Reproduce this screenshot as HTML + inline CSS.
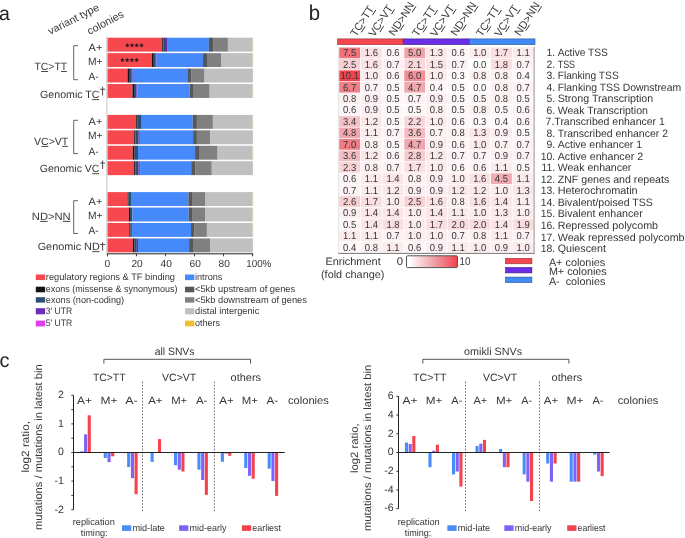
<!DOCTYPE html>
<html><head><meta charset="utf-8"><style>
html,body{margin:0;padding:0;background:#fff;}
svg{display:block;will-change:transform;text-rendering:geometricPrecision;font-family:"Liberation Sans",sans-serif;}
</style></head><body>
<svg width="685" height="538" viewBox="0 0 685 538">
<rect width="685" height="538" fill="#fff"/>
<text x="-1.00" y="20.00" font-size="19.5" fill="#222">a</text>
<text x="50.3" y="35" font-size="10.8" fill="#363636" transform="rotate(-27 50.3 35)">variant type</text>
<text x="89.6" y="35" font-size="10.8" fill="#363636" transform="rotate(-28 89.6 35)">colonies</text>
<rect x="107.40" y="37.70" width="54.80" height="13.90" fill="#f7474f"/>
<rect x="162.20" y="37.70" width="1.00" height="13.90" fill="#141414"/>
<rect x="163.20" y="37.70" width="2.80" height="13.90" fill="#2b4e72"/>
<rect x="166.00" y="37.70" width="1.00" height="13.90" fill="#6a2db5"/>
<rect x="167.00" y="37.70" width="41.90" height="13.90" fill="#4689fa"/>
<rect x="208.90" y="37.70" width="4.20" height="13.90" fill="#575757"/>
<rect x="213.10" y="37.70" width="14.80" height="13.90" fill="#808080"/>
<rect x="227.90" y="37.70" width="24.80" height="13.90" fill="#c0c0c0"/>
<rect x="252.70" y="37.70" width="0.50" height="13.90" fill="#e6d9a0"/>
<rect x="107.40" y="53.14" width="44.40" height="13.90" fill="#f7474f"/>
<rect x="151.80" y="53.14" width="1.20" height="13.90" fill="#141414"/>
<rect x="153.00" y="53.14" width="2.20" height="13.90" fill="#2b4e72"/>
<rect x="155.20" y="53.14" width="1.40" height="13.90" fill="#6a2db5"/>
<rect x="156.60" y="53.14" width="46.40" height="13.90" fill="#4689fa"/>
<rect x="203.00" y="53.14" width="4.00" height="13.90" fill="#575757"/>
<rect x="207.00" y="53.14" width="14.00" height="13.90" fill="#808080"/>
<rect x="221.00" y="53.14" width="31.70" height="13.90" fill="#c0c0c0"/>
<rect x="252.70" y="53.14" width="0.50" height="13.90" fill="#e6d9a0"/>
<rect x="107.40" y="68.58" width="20.10" height="13.90" fill="#f7474f"/>
<rect x="127.50" y="68.58" width="1.50" height="13.90" fill="#141414"/>
<rect x="129.00" y="68.58" width="2.20" height="13.90" fill="#2b4e72"/>
<rect x="131.20" y="68.58" width="1.50" height="13.90" fill="#6a2db5"/>
<rect x="132.70" y="68.58" width="54.60" height="13.90" fill="#4689fa"/>
<rect x="187.30" y="68.58" width="3.80" height="13.90" fill="#575757"/>
<rect x="191.10" y="68.58" width="13.50" height="13.90" fill="#808080"/>
<rect x="204.60" y="68.58" width="48.30" height="13.90" fill="#c0c0c0"/>
<rect x="107.40" y="84.02" width="25.10" height="13.90" fill="#f7474f"/>
<rect x="132.50" y="84.02" width="1.50" height="13.90" fill="#141414"/>
<rect x="134.00" y="84.02" width="2.40" height="13.90" fill="#2b4e72"/>
<rect x="136.40" y="84.02" width="0.90" height="13.90" fill="#6a2db5"/>
<rect x="137.30" y="84.02" width="52.50" height="13.90" fill="#4689fa"/>
<rect x="189.80" y="84.02" width="3.20" height="13.90" fill="#575757"/>
<rect x="193.00" y="84.02" width="16.70" height="13.90" fill="#808080"/>
<rect x="209.70" y="84.02" width="43.00" height="13.90" fill="#c0c0c0"/>
<rect x="252.70" y="84.02" width="0.50" height="13.90" fill="#e6d9a0"/>
<rect x="107.40" y="114.90" width="28.80" height="13.90" fill="#f7474f"/>
<rect x="136.20" y="114.90" width="1.40" height="13.90" fill="#141414"/>
<rect x="137.60" y="114.90" width="4.00" height="13.90" fill="#2b4e72"/>
<rect x="141.60" y="114.90" width="0.30" height="13.90" fill="#6a2db5"/>
<rect x="141.90" y="114.90" width="50.80" height="13.90" fill="#4689fa"/>
<rect x="192.70" y="114.90" width="4.20" height="13.90" fill="#575757"/>
<rect x="196.90" y="114.90" width="16.00" height="13.90" fill="#808080"/>
<rect x="212.90" y="114.90" width="39.80" height="13.90" fill="#c0c0c0"/>
<rect x="252.70" y="114.90" width="0.50" height="13.90" fill="#e6d9a0"/>
<rect x="107.40" y="130.34" width="26.80" height="13.90" fill="#f7474f"/>
<rect x="134.20" y="130.34" width="1.20" height="13.90" fill="#141414"/>
<rect x="135.40" y="130.34" width="3.20" height="13.90" fill="#2b4e72"/>
<rect x="138.60" y="130.34" width="1.20" height="13.90" fill="#6a2db5"/>
<rect x="139.80" y="130.34" width="53.30" height="13.90" fill="#4689fa"/>
<rect x="193.10" y="130.34" width="3.80" height="13.90" fill="#575757"/>
<rect x="196.90" y="130.34" width="13.50" height="13.90" fill="#808080"/>
<rect x="210.40" y="130.34" width="42.50" height="13.90" fill="#c0c0c0"/>
<rect x="107.40" y="145.78" width="25.40" height="13.90" fill="#f7474f"/>
<rect x="132.80" y="145.78" width="1.80" height="13.90" fill="#141414"/>
<rect x="134.60" y="145.78" width="2.40" height="13.90" fill="#2b4e72"/>
<rect x="137.00" y="145.78" width="1.00" height="13.90" fill="#6a2db5"/>
<rect x="138.00" y="145.78" width="57.10" height="13.90" fill="#4689fa"/>
<rect x="195.10" y="145.78" width="3.90" height="13.90" fill="#575757"/>
<rect x="199.00" y="145.78" width="18.60" height="13.90" fill="#808080"/>
<rect x="217.60" y="145.78" width="35.10" height="13.90" fill="#c0c0c0"/>
<rect x="252.70" y="145.78" width="0.50" height="13.90" fill="#e6d9a0"/>
<rect x="107.40" y="161.22" width="26.70" height="13.90" fill="#f7474f"/>
<rect x="134.10" y="161.22" width="1.30" height="13.90" fill="#141414"/>
<rect x="135.40" y="161.22" width="3.00" height="13.90" fill="#2b4e72"/>
<rect x="138.40" y="161.22" width="1.40" height="13.90" fill="#6a2db5"/>
<rect x="139.80" y="161.22" width="51.40" height="13.90" fill="#4689fa"/>
<rect x="191.20" y="161.22" width="3.90" height="13.90" fill="#575757"/>
<rect x="195.10" y="161.22" width="16.70" height="13.90" fill="#808080"/>
<rect x="211.80" y="161.22" width="41.10" height="13.90" fill="#c0c0c0"/>
<rect x="107.40" y="192.10" width="20.20" height="13.90" fill="#f7474f"/>
<rect x="127.60" y="192.10" width="1.00" height="13.90" fill="#141414"/>
<rect x="128.60" y="192.10" width="2.40" height="13.90" fill="#2b4e72"/>
<rect x="131.00" y="192.10" width="57.40" height="13.90" fill="#4689fa"/>
<rect x="188.40" y="192.10" width="3.60" height="13.90" fill="#575757"/>
<rect x="192.00" y="192.10" width="13.00" height="13.90" fill="#808080"/>
<rect x="205.00" y="192.10" width="47.70" height="13.90" fill="#c0c0c0"/>
<rect x="252.70" y="192.10" width="0.50" height="13.90" fill="#e6d9a0"/>
<rect x="107.40" y="207.54" width="21.50" height="13.90" fill="#f7474f"/>
<rect x="128.90" y="207.54" width="1.10" height="13.90" fill="#141414"/>
<rect x="130.00" y="207.54" width="2.50" height="13.90" fill="#2b4e72"/>
<rect x="132.50" y="207.54" width="56.20" height="13.90" fill="#4689fa"/>
<rect x="188.70" y="207.54" width="3.30" height="13.90" fill="#575757"/>
<rect x="192.00" y="207.54" width="13.00" height="13.90" fill="#808080"/>
<rect x="205.00" y="207.54" width="47.70" height="13.90" fill="#c0c0c0"/>
<rect x="252.70" y="207.54" width="0.50" height="13.90" fill="#e6d9a0"/>
<rect x="107.40" y="222.98" width="21.90" height="13.90" fill="#f7474f"/>
<rect x="129.30" y="222.98" width="1.20" height="13.90" fill="#141414"/>
<rect x="130.50" y="222.98" width="1.40" height="13.90" fill="#2b4e72"/>
<rect x="131.90" y="222.98" width="59.10" height="13.90" fill="#4689fa"/>
<rect x="191.00" y="222.98" width="3.10" height="13.90" fill="#575757"/>
<rect x="194.10" y="222.98" width="12.80" height="13.90" fill="#808080"/>
<rect x="206.90" y="222.98" width="45.80" height="13.90" fill="#c0c0c0"/>
<rect x="252.70" y="222.98" width="0.50" height="13.90" fill="#e6d9a0"/>
<rect x="107.40" y="238.42" width="25.50" height="13.90" fill="#f7474f"/>
<rect x="132.90" y="238.42" width="1.30" height="13.90" fill="#141414"/>
<rect x="134.20" y="238.42" width="2.60" height="13.90" fill="#2b4e72"/>
<rect x="136.80" y="238.42" width="1.20" height="13.90" fill="#6a2db5"/>
<rect x="138.00" y="238.42" width="51.10" height="13.90" fill="#4689fa"/>
<rect x="189.10" y="238.42" width="3.90" height="13.90" fill="#575757"/>
<rect x="193.00" y="238.42" width="17.00" height="13.90" fill="#808080"/>
<rect x="210.00" y="238.42" width="42.90" height="13.90" fill="#c0c0c0"/>
<polygon points="127.30,42.80 127.96,44.39 129.68,44.53 128.37,45.65 128.77,47.32 127.30,46.42 125.83,47.32 126.23,45.65 124.92,44.53 126.64,44.39" fill="#2a1a1a"/>
<polygon points="122.40,57.60 123.06,59.19 124.78,59.33 123.47,60.45 123.87,62.12 122.40,61.23 120.93,62.12 121.33,60.45 120.02,59.33 121.74,59.19" fill="#2a1a1a"/>
<polygon points="132.05,42.80 132.71,44.39 134.43,44.53 133.12,45.65 133.52,47.32 132.05,46.42 130.58,47.32 130.98,45.65 129.67,44.53 131.39,44.39" fill="#2a1a1a"/>
<polygon points="127.15,57.60 127.81,59.19 129.53,59.33 128.22,60.45 128.62,62.12 127.15,61.23 125.68,62.12 126.08,60.45 124.77,59.33 126.49,59.19" fill="#2a1a1a"/>
<polygon points="136.80,42.80 137.46,44.39 139.18,44.53 137.87,45.65 138.27,47.32 136.80,46.42 135.33,47.32 135.73,45.65 134.42,44.53 136.14,44.39" fill="#2a1a1a"/>
<polygon points="131.90,57.60 132.56,59.19 134.28,59.33 132.97,60.45 133.37,62.12 131.90,61.23 130.43,62.12 130.83,60.45 129.52,59.33 131.24,59.19" fill="#2a1a1a"/>
<polygon points="141.55,42.80 142.21,44.39 143.93,44.53 142.62,45.65 143.02,47.32 141.55,46.42 140.08,47.32 140.48,45.65 139.17,44.53 140.89,44.39" fill="#2a1a1a"/>
<polygon points="136.65,57.60 137.31,59.19 139.03,59.33 137.72,60.45 138.12,62.12 136.65,61.23 135.18,62.12 135.58,60.45 134.27,59.33 135.99,59.19" fill="#2a1a1a"/>
<line x1="106.90" y1="36.50" x2="106.90" y2="253.50" stroke="#c4c4c4" stroke-width="1"/>
<line x1="106.90" y1="253.80" x2="253.20" y2="253.80" stroke="#222" stroke-width="1"/>
<line x1="107.40" y1="253.80" x2="107.40" y2="256.30" stroke="#222" stroke-width="0.9"/>
<line x1="136.44" y1="253.80" x2="136.44" y2="256.30" stroke="#222" stroke-width="0.9"/>
<line x1="165.48" y1="253.80" x2="165.48" y2="256.30" stroke="#222" stroke-width="0.9"/>
<line x1="194.52" y1="253.80" x2="194.52" y2="256.30" stroke="#222" stroke-width="0.9"/>
<line x1="223.56" y1="253.80" x2="223.56" y2="256.30" stroke="#222" stroke-width="0.9"/>
<line x1="252.60" y1="253.80" x2="252.60" y2="256.30" stroke="#222" stroke-width="0.9"/>
<text x="107.40" y="266.70" font-size="10.2" text-anchor="middle" fill="#363636">0</text>
<text x="137.14" y="266.70" font-size="10.2" text-anchor="middle" fill="#363636">20</text>
<text x="166.18" y="266.70" font-size="10.2" text-anchor="middle" fill="#363636">40</text>
<text x="195.22" y="266.70" font-size="10.2" text-anchor="middle" fill="#363636">60</text>
<text x="224.26" y="266.70" font-size="10.2" text-anchor="middle" fill="#363636">80</text>
<text x="246.20" y="266.70" font-size="10.2" textLength="25.18" lengthAdjust="spacingAndGlyphs" fill="#363636">100%</text>
<text x="88.60" y="50.50" font-size="10.5" textLength="13.71" lengthAdjust="spacingAndGlyphs" fill="#363636">A+</text>
<text x="88.00" y="64.90" font-size="10.5" textLength="14.52" lengthAdjust="spacingAndGlyphs" fill="#363636">M+</text>
<text x="88.60" y="79.80" font-size="10.5" textLength="10.10" lengthAdjust="spacingAndGlyphs" fill="#363636">A-</text>
<path d="M78 45.70 H73.7 V79.70 H78" fill="none" stroke="#555" stroke-width="0.9"/>
<text x="34.50" y="69.90" font-size="10.5" textLength="32.59" lengthAdjust="spacingAndGlyphs" fill="#363636">TC&gt;TT</text>
<line x1="41.14" y1="71.50" x2="48.04" y2="71.50" stroke="#333" stroke-width="0.9"/>
<line x1="61.04" y1="71.50" x2="66.79" y2="71.50" stroke="#333" stroke-width="0.9"/>
<text x="40.10" y="97.50" font-size="10.5" textLength="59.39" lengthAdjust="spacingAndGlyphs" fill="#363636">Genomic TC</text>
<line x1="92.13" y1="99.60" x2="99.19" y2="99.60" stroke="#333" stroke-width="0.9"/>
<line x1="102.60" y1="86.80" x2="102.60" y2="95.50" stroke="#444" stroke-width="0.95"/>
<line x1="100.20" y1="89.20" x2="105.20" y2="89.20" stroke="#444" stroke-width="0.95"/>
<text x="88.60" y="124.90" font-size="10.5" textLength="13.71" lengthAdjust="spacingAndGlyphs" fill="#363636">A+</text>
<text x="88.00" y="139.40" font-size="10.5" textLength="14.52" lengthAdjust="spacingAndGlyphs" fill="#363636">M+</text>
<text x="88.60" y="154.60" font-size="10.5" textLength="10.10" lengthAdjust="spacingAndGlyphs" fill="#363636">A-</text>
<path d="M78 120.30 H73.7 V153.60 H78" fill="none" stroke="#555" stroke-width="0.9"/>
<text x="34.00" y="144.80" font-size="10.5" textLength="34.31" lengthAdjust="spacingAndGlyphs" fill="#363636">VC&gt;VT</text>
<line x1="41.34" y1="146.40" x2="48.36" y2="146.40" stroke="#333" stroke-width="0.9"/>
<line x1="62.16" y1="146.40" x2="68.01" y2="146.40" stroke="#333" stroke-width="0.9"/>
<text x="39.80" y="171.60" font-size="10.5" textLength="59.69" lengthAdjust="spacingAndGlyphs" fill="#363636">Genomic VC</text>
<line x1="92.18" y1="173.70" x2="99.19" y2="173.70" stroke="#333" stroke-width="0.9"/>
<line x1="102.60" y1="160.50" x2="102.60" y2="169.00" stroke="#444" stroke-width="0.95"/>
<line x1="100.20" y1="163.00" x2="105.20" y2="163.00" stroke="#444" stroke-width="0.95"/>
<text x="88.60" y="204.90" font-size="10.5" textLength="13.71" lengthAdjust="spacingAndGlyphs" fill="#363636">A+</text>
<text x="88.00" y="219.20" font-size="10.5" textLength="14.52" lengthAdjust="spacingAndGlyphs" fill="#363636">M+</text>
<text x="88.60" y="234.30" font-size="10.5" textLength="10.10" lengthAdjust="spacingAndGlyphs" fill="#363636">A-</text>
<path d="M78 200.70 H73.7 V233.50 H78" fill="none" stroke="#555" stroke-width="0.9"/>
<text x="31.80" y="219.80" font-size="10.5" textLength="38.87" lengthAdjust="spacingAndGlyphs" fill="#363636">ND&gt;NN</text>
<line x1="40.18" y1="221.40" x2="47.67" y2="221.40" stroke="#333" stroke-width="0.9"/>
<line x1="62.89" y1="221.40" x2="70.37" y2="221.40" stroke="#333" stroke-width="0.9"/>
<text x="37.70" y="249.50" font-size="10.5" textLength="62.09" lengthAdjust="spacingAndGlyphs" fill="#363636">Genomic ND</text>
<line x1="92.25" y1="251.60" x2="99.49" y2="251.60" stroke="#333" stroke-width="0.9"/>
<line x1="102.60" y1="242.20" x2="102.60" y2="250.70" stroke="#444" stroke-width="0.95"/>
<line x1="100.20" y1="244.50" x2="105.20" y2="244.50" stroke="#444" stroke-width="0.95"/>
<rect x="35.80" y="274.50" width="9.30" height="5.60" fill="#f7474f"/>
<text x="45.80" y="280.10" font-size="9.4" textLength="129.19" lengthAdjust="spacingAndGlyphs" fill="#363636">regulatory regions &amp; TF binding</text>
<rect x="35.80" y="286.70" width="9.30" height="5.60" fill="#141414"/>
<text x="45.80" y="292.30" font-size="9.4" textLength="131.58" lengthAdjust="spacingAndGlyphs" fill="#363636">exons (missense &amp; synonymous)</text>
<rect x="35.80" y="297.20" width="9.30" height="5.40" fill="#2b4e72"/>
<text x="45.80" y="302.60" font-size="9.4" textLength="78.31" lengthAdjust="spacingAndGlyphs" fill="#363636">exons (non-coding)</text>
<rect x="35.80" y="308.20" width="9.30" height="6.10" fill="#6a2db5"/>
<text x="45.80" y="314.30" font-size="9.4" textLength="26.41" lengthAdjust="spacingAndGlyphs" fill="#363636">3′ UTR</text>
<rect x="35.80" y="320.60" width="9.30" height="5.80" fill="#e23cf0"/>
<text x="45.80" y="326.40" font-size="9.4" textLength="26.41" lengthAdjust="spacingAndGlyphs" fill="#363636">5′ UTR</text>
<rect x="185.00" y="274.50" width="9.30" height="5.60" fill="#4689fa"/>
<text x="195.00" y="280.10" font-size="9.4" textLength="27.41" lengthAdjust="spacingAndGlyphs" fill="#363636">introns</text>
<rect x="185.00" y="286.70" width="9.30" height="5.60" fill="#575757"/>
<text x="195.00" y="292.30" font-size="9.4" textLength="100.22" lengthAdjust="spacingAndGlyphs" fill="#363636">&lt;5kb upstream of genes</text>
<rect x="185.00" y="297.20" width="9.30" height="5.40" fill="#808080"/>
<text x="195.00" y="302.60" font-size="9.4" textLength="111.90" lengthAdjust="spacingAndGlyphs" fill="#363636">&lt;5kb downstream of genes</text>
<rect x="185.00" y="308.20" width="9.30" height="6.10" fill="#c0c0c0"/>
<text x="195.00" y="314.30" font-size="9.4" textLength="64.29" lengthAdjust="spacingAndGlyphs" fill="#363636">distal intergenic</text>
<rect x="185.00" y="320.60" width="9.30" height="5.80" fill="#f0c030"/>
<text x="195.00" y="326.40" font-size="9.4" textLength="24.89" lengthAdjust="spacingAndGlyphs" fill="#363636">others</text>
<text x="308.80" y="20.10" font-size="21.3" textLength="11.32" lengthAdjust="spacingAndGlyphs" fill="#222">b</text>
<rect x="337.60" y="38.90" width="65.50" height="5.70" fill="#f5474f" stroke="#8c2c34" stroke-width="0.6"/>
<rect x="403.30" y="38.90" width="66.00" height="5.70" fill="#6a2ee6" stroke="#3a1a80" stroke-width="0.6"/>
<rect x="469.40" y="38.90" width="65.60" height="5.70" fill="#4189f5" stroke="#26508c" stroke-width="0.6"/>
<rect x="339.20" y="47.55" width="20.89" height="10.73" fill="#f0727a"/>
<text x="349.64" y="56.32" font-size="10.1" text-anchor="middle" textLength="13.21" lengthAdjust="spacingAndGlyphs" fill="#363636">7.5</text>
<rect x="360.89" y="47.55" width="20.89" height="10.73" fill="#fae1e3"/>
<text x="371.33" y="56.32" font-size="10.1" text-anchor="middle" textLength="13.21" lengthAdjust="spacingAndGlyphs" fill="#363636">1.6</text>
<rect x="382.58" y="47.55" width="20.89" height="10.73" fill="#fdf4f5"/>
<text x="393.02" y="56.32" font-size="10.1" text-anchor="middle" textLength="13.21" lengthAdjust="spacingAndGlyphs" fill="#363636">0.6</text>
<rect x="404.27" y="47.55" width="20.89" height="10.73" fill="#efa2a9"/>
<text x="414.71" y="56.32" font-size="10.1" text-anchor="middle" textLength="13.21" lengthAdjust="spacingAndGlyphs" fill="#363636">5.0</text>
<rect x="425.96" y="47.55" width="20.89" height="10.73" fill="#fbe7e9"/>
<text x="436.40" y="56.32" font-size="10.1" text-anchor="middle" textLength="13.21" lengthAdjust="spacingAndGlyphs" fill="#363636">1.3</text>
<rect x="447.64" y="47.55" width="20.89" height="10.73" fill="#fdf4f5"/>
<text x="458.09" y="56.32" font-size="10.1" text-anchor="middle" textLength="13.21" lengthAdjust="spacingAndGlyphs" fill="#363636">0.6</text>
<rect x="469.33" y="47.55" width="20.89" height="10.73" fill="#fcecee"/>
<text x="479.78" y="56.32" font-size="10.1" text-anchor="middle" textLength="13.21" lengthAdjust="spacingAndGlyphs" fill="#363636">1.0</text>
<rect x="491.02" y="47.55" width="20.89" height="10.73" fill="#fadfe2"/>
<text x="501.47" y="56.32" font-size="10.1" text-anchor="middle" textLength="13.21" lengthAdjust="spacingAndGlyphs" fill="#363636">1.7</text>
<rect x="512.71" y="47.55" width="20.89" height="10.73" fill="#fbebec"/>
<text x="523.16" y="56.32" font-size="10.1" text-anchor="middle" textLength="13.21" lengthAdjust="spacingAndGlyphs" fill="#363636">1.1</text>
<rect x="339.20" y="58.98" width="20.89" height="10.73" fill="#f7d0d4"/>
<text x="349.64" y="67.75" font-size="10.1" text-anchor="middle" textLength="13.21" lengthAdjust="spacingAndGlyphs" fill="#363636">2.5</text>
<rect x="360.89" y="58.98" width="20.89" height="10.73" fill="#fae1e3"/>
<text x="371.33" y="67.75" font-size="10.1" text-anchor="middle" textLength="13.21" lengthAdjust="spacingAndGlyphs" fill="#363636">1.6</text>
<rect x="382.58" y="58.98" width="20.89" height="10.73" fill="#fdf2f3"/>
<text x="393.02" y="67.75" font-size="10.1" text-anchor="middle" textLength="13.21" lengthAdjust="spacingAndGlyphs" fill="#363636">0.7</text>
<rect x="404.27" y="58.98" width="20.89" height="10.73" fill="#f8d8db"/>
<text x="414.71" y="67.75" font-size="10.1" text-anchor="middle" textLength="13.21" lengthAdjust="spacingAndGlyphs" fill="#363636">2.1</text>
<rect x="425.96" y="58.98" width="20.89" height="10.73" fill="#fae3e5"/>
<text x="436.40" y="67.75" font-size="10.1" text-anchor="middle" textLength="13.21" lengthAdjust="spacingAndGlyphs" fill="#363636">1.5</text>
<rect x="447.64" y="58.98" width="20.89" height="10.73" fill="#fdf2f3"/>
<text x="458.09" y="67.75" font-size="10.1" text-anchor="middle" textLength="13.21" lengthAdjust="spacingAndGlyphs" fill="#363636">0.7</text>
<rect x="469.33" y="58.98" width="20.89" height="10.73" fill="#ffffff"/>
<text x="479.78" y="67.75" font-size="10.1" text-anchor="middle" textLength="13.21" lengthAdjust="spacingAndGlyphs" fill="#363636">0.0</text>
<rect x="491.02" y="58.98" width="20.89" height="10.73" fill="#f9dee0"/>
<text x="501.47" y="67.75" font-size="10.1" text-anchor="middle" textLength="13.21" lengthAdjust="spacingAndGlyphs" fill="#363636">1.8</text>
<rect x="512.71" y="58.98" width="20.89" height="10.73" fill="#fdf2f3"/>
<text x="523.16" y="67.75" font-size="10.1" text-anchor="middle" textLength="13.21" lengthAdjust="spacingAndGlyphs" fill="#363636">0.7</text>
<rect x="339.20" y="70.42" width="20.89" height="10.73" fill="#f2424c"/>
<text x="349.64" y="79.18" font-size="10.1" text-anchor="middle" textLength="18.49" lengthAdjust="spacingAndGlyphs" fill="#363636">10.1</text>
<rect x="360.89" y="70.42" width="20.89" height="10.73" fill="#fcecee"/>
<text x="371.33" y="79.18" font-size="10.1" text-anchor="middle" textLength="13.21" lengthAdjust="spacingAndGlyphs" fill="#363636">1.0</text>
<rect x="382.58" y="70.42" width="20.89" height="10.73" fill="#fdf4f5"/>
<text x="393.02" y="79.18" font-size="10.1" text-anchor="middle" textLength="13.21" lengthAdjust="spacingAndGlyphs" fill="#363636">0.6</text>
<rect x="404.27" y="70.42" width="20.89" height="10.73" fill="#f08f96"/>
<text x="414.71" y="79.18" font-size="10.1" text-anchor="middle" textLength="13.21" lengthAdjust="spacingAndGlyphs" fill="#363636">6.0</text>
<rect x="425.96" y="70.42" width="20.89" height="10.73" fill="#fcecee"/>
<text x="436.40" y="79.18" font-size="10.1" text-anchor="middle" textLength="13.21" lengthAdjust="spacingAndGlyphs" fill="#363636">1.0</text>
<rect x="447.64" y="70.42" width="20.89" height="10.73" fill="#fef9fa"/>
<text x="458.09" y="79.18" font-size="10.1" text-anchor="middle" textLength="13.21" lengthAdjust="spacingAndGlyphs" fill="#363636">0.3</text>
<rect x="469.33" y="70.42" width="20.89" height="10.73" fill="#fcf0f1"/>
<text x="479.78" y="79.18" font-size="10.1" text-anchor="middle" textLength="13.21" lengthAdjust="spacingAndGlyphs" fill="#363636">0.8</text>
<rect x="491.02" y="70.42" width="20.89" height="10.73" fill="#fcf0f1"/>
<text x="501.47" y="79.18" font-size="10.1" text-anchor="middle" textLength="13.21" lengthAdjust="spacingAndGlyphs" fill="#363636">0.8</text>
<rect x="512.71" y="70.42" width="20.89" height="10.73" fill="#fef8f8"/>
<text x="523.16" y="79.18" font-size="10.1" text-anchor="middle" textLength="13.21" lengthAdjust="spacingAndGlyphs" fill="#363636">0.4</text>
<rect x="339.20" y="81.85" width="20.89" height="10.73" fill="#f08189"/>
<text x="349.64" y="90.62" font-size="10.1" text-anchor="middle" textLength="13.21" lengthAdjust="spacingAndGlyphs" fill="#363636">6.7</text>
<rect x="360.89" y="81.85" width="20.89" height="10.73" fill="#fdf2f3"/>
<text x="371.33" y="90.62" font-size="10.1" text-anchor="middle" textLength="13.21" lengthAdjust="spacingAndGlyphs" fill="#363636">0.7</text>
<rect x="382.58" y="81.85" width="20.89" height="10.73" fill="#fdf6f6"/>
<text x="393.02" y="90.62" font-size="10.1" text-anchor="middle" textLength="13.21" lengthAdjust="spacingAndGlyphs" fill="#363636">0.5</text>
<rect x="404.27" y="81.85" width="20.89" height="10.73" fill="#f0a8ae"/>
<text x="414.71" y="90.62" font-size="10.1" text-anchor="middle" textLength="13.21" lengthAdjust="spacingAndGlyphs" fill="#363636">4.7</text>
<rect x="425.96" y="81.85" width="20.89" height="10.73" fill="#fef8f8"/>
<text x="436.40" y="90.62" font-size="10.1" text-anchor="middle" textLength="13.21" lengthAdjust="spacingAndGlyphs" fill="#363636">0.4</text>
<rect x="447.64" y="81.85" width="20.89" height="10.73" fill="#fdf6f6"/>
<text x="458.09" y="90.62" font-size="10.1" text-anchor="middle" textLength="13.21" lengthAdjust="spacingAndGlyphs" fill="#363636">0.5</text>
<rect x="469.33" y="81.85" width="20.89" height="10.73" fill="#ffffff"/>
<text x="479.78" y="90.62" font-size="10.1" text-anchor="middle" textLength="13.21" lengthAdjust="spacingAndGlyphs" fill="#363636">0.0</text>
<rect x="491.02" y="81.85" width="20.89" height="10.73" fill="#fcf0f1"/>
<text x="501.47" y="90.62" font-size="10.1" text-anchor="middle" textLength="13.21" lengthAdjust="spacingAndGlyphs" fill="#363636">0.8</text>
<rect x="512.71" y="81.85" width="20.89" height="10.73" fill="#fdf2f3"/>
<text x="523.16" y="90.62" font-size="10.1" text-anchor="middle" textLength="13.21" lengthAdjust="spacingAndGlyphs" fill="#363636">0.7</text>
<rect x="339.20" y="93.28" width="20.89" height="10.73" fill="#fcf0f1"/>
<text x="349.64" y="102.05" font-size="10.1" text-anchor="middle" textLength="13.21" lengthAdjust="spacingAndGlyphs" fill="#363636">0.8</text>
<rect x="360.89" y="93.28" width="20.89" height="10.73" fill="#fceef0"/>
<text x="371.33" y="102.05" font-size="10.1" text-anchor="middle" textLength="13.21" lengthAdjust="spacingAndGlyphs" fill="#363636">0.9</text>
<rect x="382.58" y="93.28" width="20.89" height="10.73" fill="#fdf6f6"/>
<text x="393.02" y="102.05" font-size="10.1" text-anchor="middle" textLength="13.21" lengthAdjust="spacingAndGlyphs" fill="#363636">0.5</text>
<rect x="404.27" y="93.28" width="20.89" height="10.73" fill="#fdf2f3"/>
<text x="414.71" y="102.05" font-size="10.1" text-anchor="middle" textLength="13.21" lengthAdjust="spacingAndGlyphs" fill="#363636">0.7</text>
<rect x="425.96" y="93.28" width="20.89" height="10.73" fill="#fceef0"/>
<text x="436.40" y="102.05" font-size="10.1" text-anchor="middle" textLength="13.21" lengthAdjust="spacingAndGlyphs" fill="#363636">0.9</text>
<rect x="447.64" y="93.28" width="20.89" height="10.73" fill="#fdf6f6"/>
<text x="458.09" y="102.05" font-size="10.1" text-anchor="middle" textLength="13.21" lengthAdjust="spacingAndGlyphs" fill="#363636">0.5</text>
<rect x="469.33" y="93.28" width="20.89" height="10.73" fill="#fdf6f6"/>
<text x="479.78" y="102.05" font-size="10.1" text-anchor="middle" textLength="13.21" lengthAdjust="spacingAndGlyphs" fill="#363636">0.5</text>
<rect x="491.02" y="93.28" width="20.89" height="10.73" fill="#fcf0f1"/>
<text x="501.47" y="102.05" font-size="10.1" text-anchor="middle" textLength="13.21" lengthAdjust="spacingAndGlyphs" fill="#363636">0.8</text>
<rect x="512.71" y="93.28" width="20.89" height="10.73" fill="#fdf6f6"/>
<text x="523.16" y="102.05" font-size="10.1" text-anchor="middle" textLength="13.21" lengthAdjust="spacingAndGlyphs" fill="#363636">0.5</text>
<rect x="339.20" y="104.72" width="20.89" height="10.73" fill="#fdf4f5"/>
<text x="349.64" y="113.48" font-size="10.1" text-anchor="middle" textLength="13.21" lengthAdjust="spacingAndGlyphs" fill="#363636">0.6</text>
<rect x="360.89" y="104.72" width="20.89" height="10.73" fill="#fceef0"/>
<text x="371.33" y="113.48" font-size="10.1" text-anchor="middle" textLength="13.21" lengthAdjust="spacingAndGlyphs" fill="#363636">0.9</text>
<rect x="382.58" y="104.72" width="20.89" height="10.73" fill="#fdf6f6"/>
<text x="393.02" y="113.48" font-size="10.1" text-anchor="middle" textLength="13.21" lengthAdjust="spacingAndGlyphs" fill="#363636">0.5</text>
<rect x="404.27" y="104.72" width="20.89" height="10.73" fill="#fdf6f6"/>
<text x="414.71" y="113.48" font-size="10.1" text-anchor="middle" textLength="13.21" lengthAdjust="spacingAndGlyphs" fill="#363636">0.5</text>
<rect x="425.96" y="104.72" width="20.89" height="10.73" fill="#fcf0f1"/>
<text x="436.40" y="113.48" font-size="10.1" text-anchor="middle" textLength="13.21" lengthAdjust="spacingAndGlyphs" fill="#363636">0.8</text>
<rect x="447.64" y="104.72" width="20.89" height="10.73" fill="#fdf6f6"/>
<text x="458.09" y="113.48" font-size="10.1" text-anchor="middle" textLength="13.21" lengthAdjust="spacingAndGlyphs" fill="#363636">0.5</text>
<rect x="469.33" y="104.72" width="20.89" height="10.73" fill="#fcf0f1"/>
<text x="479.78" y="113.48" font-size="10.1" text-anchor="middle" textLength="13.21" lengthAdjust="spacingAndGlyphs" fill="#363636">0.8</text>
<rect x="491.02" y="104.72" width="20.89" height="10.73" fill="#fdf6f6"/>
<text x="501.47" y="113.48" font-size="10.1" text-anchor="middle" textLength="13.21" lengthAdjust="spacingAndGlyphs" fill="#363636">0.5</text>
<rect x="512.71" y="104.72" width="20.89" height="10.73" fill="#fdf4f5"/>
<text x="523.16" y="113.48" font-size="10.1" text-anchor="middle" textLength="13.21" lengthAdjust="spacingAndGlyphs" fill="#363636">0.6</text>
<rect x="339.20" y="116.15" width="20.89" height="10.73" fill="#f4c0c5"/>
<text x="349.64" y="124.92" font-size="10.1" text-anchor="middle" textLength="13.21" lengthAdjust="spacingAndGlyphs" fill="#363636">3.4</text>
<rect x="360.89" y="116.15" width="20.89" height="10.73" fill="#fbe9ea"/>
<text x="371.33" y="124.92" font-size="10.1" text-anchor="middle" textLength="13.21" lengthAdjust="spacingAndGlyphs" fill="#363636">1.2</text>
<rect x="382.58" y="116.15" width="20.89" height="10.73" fill="#fdf6f6"/>
<text x="393.02" y="124.92" font-size="10.1" text-anchor="middle" textLength="13.21" lengthAdjust="spacingAndGlyphs" fill="#363636">0.5</text>
<rect x="404.27" y="116.15" width="20.89" height="10.73" fill="#f8d6d9"/>
<text x="414.71" y="124.92" font-size="10.1" text-anchor="middle" textLength="13.21" lengthAdjust="spacingAndGlyphs" fill="#363636">2.2</text>
<rect x="425.96" y="116.15" width="20.89" height="10.73" fill="#fcecee"/>
<text x="436.40" y="124.92" font-size="10.1" text-anchor="middle" textLength="13.21" lengthAdjust="spacingAndGlyphs" fill="#363636">1.0</text>
<rect x="447.64" y="116.15" width="20.89" height="10.73" fill="#fdf4f5"/>
<text x="458.09" y="124.92" font-size="10.1" text-anchor="middle" textLength="13.21" lengthAdjust="spacingAndGlyphs" fill="#363636">0.6</text>
<rect x="469.33" y="116.15" width="20.89" height="10.73" fill="#fef9fa"/>
<text x="479.78" y="124.92" font-size="10.1" text-anchor="middle" textLength="13.21" lengthAdjust="spacingAndGlyphs" fill="#363636">0.3</text>
<rect x="491.02" y="116.15" width="20.89" height="10.73" fill="#fef8f8"/>
<text x="501.47" y="124.92" font-size="10.1" text-anchor="middle" textLength="13.21" lengthAdjust="spacingAndGlyphs" fill="#363636">0.4</text>
<rect x="512.71" y="116.15" width="20.89" height="10.73" fill="#fdf4f5"/>
<text x="523.16" y="124.92" font-size="10.1" text-anchor="middle" textLength="13.21" lengthAdjust="spacingAndGlyphs" fill="#363636">0.6</text>
<rect x="339.20" y="127.58" width="20.89" height="10.73" fill="#f0a6ac"/>
<text x="349.64" y="136.35" font-size="10.1" text-anchor="middle" textLength="13.21" lengthAdjust="spacingAndGlyphs" fill="#363636">4.8</text>
<rect x="360.89" y="127.58" width="20.89" height="10.73" fill="#fbebec"/>
<text x="371.33" y="136.35" font-size="10.1" text-anchor="middle" textLength="13.21" lengthAdjust="spacingAndGlyphs" fill="#363636">1.1</text>
<rect x="382.58" y="127.58" width="20.89" height="10.73" fill="#fdf2f3"/>
<text x="393.02" y="136.35" font-size="10.1" text-anchor="middle" textLength="13.21" lengthAdjust="spacingAndGlyphs" fill="#363636">0.7</text>
<rect x="404.27" y="127.58" width="20.89" height="10.73" fill="#f3bcc1"/>
<text x="414.71" y="136.35" font-size="10.1" text-anchor="middle" textLength="13.21" lengthAdjust="spacingAndGlyphs" fill="#363636">3.6</text>
<rect x="425.96" y="127.58" width="20.89" height="10.73" fill="#fdf2f3"/>
<text x="436.40" y="136.35" font-size="10.1" text-anchor="middle" textLength="13.21" lengthAdjust="spacingAndGlyphs" fill="#363636">0.7</text>
<rect x="447.64" y="127.58" width="20.89" height="10.73" fill="#fcf0f1"/>
<text x="458.09" y="136.35" font-size="10.1" text-anchor="middle" textLength="13.21" lengthAdjust="spacingAndGlyphs" fill="#363636">0.8</text>
<rect x="469.33" y="127.58" width="20.89" height="10.73" fill="#fbe7e9"/>
<text x="479.78" y="136.35" font-size="10.1" text-anchor="middle" textLength="13.21" lengthAdjust="spacingAndGlyphs" fill="#363636">1.3</text>
<rect x="491.02" y="127.58" width="20.89" height="10.73" fill="#fceef0"/>
<text x="501.47" y="136.35" font-size="10.1" text-anchor="middle" textLength="13.21" lengthAdjust="spacingAndGlyphs" fill="#363636">0.9</text>
<rect x="512.71" y="127.58" width="20.89" height="10.73" fill="#fdf6f6"/>
<text x="523.16" y="136.35" font-size="10.1" text-anchor="middle" textLength="13.21" lengthAdjust="spacingAndGlyphs" fill="#363636">0.5</text>
<rect x="339.20" y="139.02" width="20.89" height="10.73" fill="#f07c84"/>
<text x="349.64" y="147.78" font-size="10.1" text-anchor="middle" textLength="13.21" lengthAdjust="spacingAndGlyphs" fill="#363636">7.0</text>
<rect x="360.89" y="139.02" width="20.89" height="10.73" fill="#fcf0f1"/>
<text x="371.33" y="147.78" font-size="10.1" text-anchor="middle" textLength="13.21" lengthAdjust="spacingAndGlyphs" fill="#363636">0.8</text>
<rect x="382.58" y="139.02" width="20.89" height="10.73" fill="#fdf6f6"/>
<text x="393.02" y="147.78" font-size="10.1" text-anchor="middle" textLength="13.21" lengthAdjust="spacingAndGlyphs" fill="#363636">0.5</text>
<rect x="404.27" y="139.02" width="20.89" height="10.73" fill="#f0a8ae"/>
<text x="414.71" y="147.78" font-size="10.1" text-anchor="middle" textLength="13.21" lengthAdjust="spacingAndGlyphs" fill="#363636">4.7</text>
<rect x="425.96" y="139.02" width="20.89" height="10.73" fill="#fceef0"/>
<text x="436.40" y="147.78" font-size="10.1" text-anchor="middle" textLength="13.21" lengthAdjust="spacingAndGlyphs" fill="#363636">0.9</text>
<rect x="447.64" y="139.02" width="20.89" height="10.73" fill="#fdf4f5"/>
<text x="458.09" y="147.78" font-size="10.1" text-anchor="middle" textLength="13.21" lengthAdjust="spacingAndGlyphs" fill="#363636">0.6</text>
<rect x="469.33" y="139.02" width="20.89" height="10.73" fill="#fcecee"/>
<text x="479.78" y="147.78" font-size="10.1" text-anchor="middle" textLength="13.21" lengthAdjust="spacingAndGlyphs" fill="#363636">1.0</text>
<rect x="491.02" y="139.02" width="20.89" height="10.73" fill="#fdf2f3"/>
<text x="501.47" y="147.78" font-size="10.1" text-anchor="middle" textLength="13.21" lengthAdjust="spacingAndGlyphs" fill="#363636">0.7</text>
<rect x="512.71" y="139.02" width="20.89" height="10.73" fill="#fdf2f3"/>
<text x="523.16" y="147.78" font-size="10.1" text-anchor="middle" textLength="13.21" lengthAdjust="spacingAndGlyphs" fill="#363636">0.7</text>
<rect x="339.20" y="150.45" width="20.89" height="10.73" fill="#f3bcc1"/>
<text x="349.64" y="159.22" font-size="10.1" text-anchor="middle" textLength="13.21" lengthAdjust="spacingAndGlyphs" fill="#363636">3.6</text>
<rect x="360.89" y="150.45" width="20.89" height="10.73" fill="#fbe9ea"/>
<text x="371.33" y="159.22" font-size="10.1" text-anchor="middle" textLength="13.21" lengthAdjust="spacingAndGlyphs" fill="#363636">1.2</text>
<rect x="382.58" y="150.45" width="20.89" height="10.73" fill="#fdf4f5"/>
<text x="393.02" y="159.22" font-size="10.1" text-anchor="middle" textLength="13.21" lengthAdjust="spacingAndGlyphs" fill="#363636">0.6</text>
<rect x="404.27" y="150.45" width="20.89" height="10.73" fill="#f6cbcf"/>
<text x="414.71" y="159.22" font-size="10.1" text-anchor="middle" textLength="13.21" lengthAdjust="spacingAndGlyphs" fill="#363636">2.8</text>
<rect x="425.96" y="150.45" width="20.89" height="10.73" fill="#fbe9ea"/>
<text x="436.40" y="159.22" font-size="10.1" text-anchor="middle" textLength="13.21" lengthAdjust="spacingAndGlyphs" fill="#363636">1.2</text>
<rect x="447.64" y="150.45" width="20.89" height="10.73" fill="#fdf2f3"/>
<text x="458.09" y="159.22" font-size="10.1" text-anchor="middle" textLength="13.21" lengthAdjust="spacingAndGlyphs" fill="#363636">0.7</text>
<rect x="469.33" y="150.45" width="20.89" height="10.73" fill="#fdf2f3"/>
<text x="479.78" y="159.22" font-size="10.1" text-anchor="middle" textLength="13.21" lengthAdjust="spacingAndGlyphs" fill="#363636">0.7</text>
<rect x="491.02" y="150.45" width="20.89" height="10.73" fill="#fceef0"/>
<text x="501.47" y="159.22" font-size="10.1" text-anchor="middle" textLength="13.21" lengthAdjust="spacingAndGlyphs" fill="#363636">0.9</text>
<rect x="512.71" y="150.45" width="20.89" height="10.73" fill="#fdf2f3"/>
<text x="523.16" y="159.22" font-size="10.1" text-anchor="middle" textLength="13.21" lengthAdjust="spacingAndGlyphs" fill="#363636">0.7</text>
<rect x="339.20" y="161.88" width="20.89" height="10.73" fill="#f8d4d7"/>
<text x="349.64" y="170.65" font-size="10.1" text-anchor="middle" textLength="13.21" lengthAdjust="spacingAndGlyphs" fill="#363636">2.3</text>
<rect x="360.89" y="161.88" width="20.89" height="10.73" fill="#fcf0f1"/>
<text x="371.33" y="170.65" font-size="10.1" text-anchor="middle" textLength="13.21" lengthAdjust="spacingAndGlyphs" fill="#363636">0.8</text>
<rect x="382.58" y="161.88" width="20.89" height="10.73" fill="#fdf2f3"/>
<text x="393.02" y="170.65" font-size="10.1" text-anchor="middle" textLength="13.21" lengthAdjust="spacingAndGlyphs" fill="#363636">0.7</text>
<rect x="404.27" y="161.88" width="20.89" height="10.73" fill="#fadfe2"/>
<text x="414.71" y="170.65" font-size="10.1" text-anchor="middle" textLength="13.21" lengthAdjust="spacingAndGlyphs" fill="#363636">1.7</text>
<rect x="425.96" y="161.88" width="20.89" height="10.73" fill="#fcecee"/>
<text x="436.40" y="170.65" font-size="10.1" text-anchor="middle" textLength="13.21" lengthAdjust="spacingAndGlyphs" fill="#363636">1.0</text>
<rect x="447.64" y="161.88" width="20.89" height="10.73" fill="#fdf4f5"/>
<text x="458.09" y="170.65" font-size="10.1" text-anchor="middle" textLength="13.21" lengthAdjust="spacingAndGlyphs" fill="#363636">0.6</text>
<rect x="469.33" y="161.88" width="20.89" height="10.73" fill="#fdf4f5"/>
<text x="479.78" y="170.65" font-size="10.1" text-anchor="middle" textLength="13.21" lengthAdjust="spacingAndGlyphs" fill="#363636">0.6</text>
<rect x="491.02" y="161.88" width="20.89" height="10.73" fill="#fbebec"/>
<text x="501.47" y="170.65" font-size="10.1" text-anchor="middle" textLength="13.21" lengthAdjust="spacingAndGlyphs" fill="#363636">1.1</text>
<rect x="512.71" y="161.88" width="20.89" height="10.73" fill="#fdf6f6"/>
<text x="523.16" y="170.65" font-size="10.1" text-anchor="middle" textLength="13.21" lengthAdjust="spacingAndGlyphs" fill="#363636">0.5</text>
<rect x="339.20" y="173.32" width="20.89" height="10.73" fill="#fdf4f5"/>
<text x="349.64" y="182.08" font-size="10.1" text-anchor="middle" textLength="13.21" lengthAdjust="spacingAndGlyphs" fill="#363636">0.6</text>
<rect x="360.89" y="173.32" width="20.89" height="10.73" fill="#fbebec"/>
<text x="371.33" y="182.08" font-size="10.1" text-anchor="middle" textLength="13.21" lengthAdjust="spacingAndGlyphs" fill="#363636">1.1</text>
<rect x="382.58" y="173.32" width="20.89" height="10.73" fill="#fbe5e7"/>
<text x="393.02" y="182.08" font-size="10.1" text-anchor="middle" textLength="13.21" lengthAdjust="spacingAndGlyphs" fill="#363636">1.4</text>
<rect x="404.27" y="173.32" width="20.89" height="10.73" fill="#fcf0f1"/>
<text x="414.71" y="182.08" font-size="10.1" text-anchor="middle" textLength="13.21" lengthAdjust="spacingAndGlyphs" fill="#363636">0.8</text>
<rect x="425.96" y="173.32" width="20.89" height="10.73" fill="#fceef0"/>
<text x="436.40" y="182.08" font-size="10.1" text-anchor="middle" textLength="13.21" lengthAdjust="spacingAndGlyphs" fill="#363636">0.9</text>
<rect x="447.64" y="173.32" width="20.89" height="10.73" fill="#fcecee"/>
<text x="458.09" y="182.08" font-size="10.1" text-anchor="middle" textLength="13.21" lengthAdjust="spacingAndGlyphs" fill="#363636">1.0</text>
<rect x="469.33" y="173.32" width="20.89" height="10.73" fill="#fae1e3"/>
<text x="479.78" y="182.08" font-size="10.1" text-anchor="middle" textLength="13.21" lengthAdjust="spacingAndGlyphs" fill="#363636">1.6</text>
<rect x="491.02" y="173.32" width="20.89" height="10.73" fill="#f1abb2"/>
<text x="501.47" y="182.08" font-size="10.1" text-anchor="middle" textLength="13.21" lengthAdjust="spacingAndGlyphs" fill="#363636">4.5</text>
<rect x="512.71" y="173.32" width="20.89" height="10.73" fill="#fbebec"/>
<text x="523.16" y="182.08" font-size="10.1" text-anchor="middle" textLength="13.21" lengthAdjust="spacingAndGlyphs" fill="#363636">1.1</text>
<rect x="339.20" y="184.75" width="20.89" height="10.73" fill="#fdf2f3"/>
<text x="349.64" y="193.52" font-size="10.1" text-anchor="middle" textLength="13.21" lengthAdjust="spacingAndGlyphs" fill="#363636">0.7</text>
<rect x="360.89" y="184.75" width="20.89" height="10.73" fill="#fbebec"/>
<text x="371.33" y="193.52" font-size="10.1" text-anchor="middle" textLength="13.21" lengthAdjust="spacingAndGlyphs" fill="#363636">1.1</text>
<rect x="382.58" y="184.75" width="20.89" height="10.73" fill="#fbe9ea"/>
<text x="393.02" y="193.52" font-size="10.1" text-anchor="middle" textLength="13.21" lengthAdjust="spacingAndGlyphs" fill="#363636">1.2</text>
<rect x="404.27" y="184.75" width="20.89" height="10.73" fill="#fceef0"/>
<text x="414.71" y="193.52" font-size="10.1" text-anchor="middle" textLength="13.21" lengthAdjust="spacingAndGlyphs" fill="#363636">0.9</text>
<rect x="425.96" y="184.75" width="20.89" height="10.73" fill="#fceef0"/>
<text x="436.40" y="193.52" font-size="10.1" text-anchor="middle" textLength="13.21" lengthAdjust="spacingAndGlyphs" fill="#363636">0.9</text>
<rect x="447.64" y="184.75" width="20.89" height="10.73" fill="#fbe9ea"/>
<text x="458.09" y="193.52" font-size="10.1" text-anchor="middle" textLength="13.21" lengthAdjust="spacingAndGlyphs" fill="#363636">1.2</text>
<rect x="469.33" y="184.75" width="20.89" height="10.73" fill="#fbe9ea"/>
<text x="479.78" y="193.52" font-size="10.1" text-anchor="middle" textLength="13.21" lengthAdjust="spacingAndGlyphs" fill="#363636">1.2</text>
<rect x="491.02" y="184.75" width="20.89" height="10.73" fill="#fcecee"/>
<text x="501.47" y="193.52" font-size="10.1" text-anchor="middle" textLength="13.21" lengthAdjust="spacingAndGlyphs" fill="#363636">1.0</text>
<rect x="512.71" y="184.75" width="20.89" height="10.73" fill="#fbe7e9"/>
<text x="523.16" y="193.52" font-size="10.1" text-anchor="middle" textLength="13.21" lengthAdjust="spacingAndGlyphs" fill="#363636">1.3</text>
<rect x="339.20" y="196.18" width="20.89" height="10.73" fill="#f7cfd2"/>
<text x="349.64" y="204.95" font-size="10.1" text-anchor="middle" textLength="13.21" lengthAdjust="spacingAndGlyphs" fill="#363636">2.6</text>
<rect x="360.89" y="196.18" width="20.89" height="10.73" fill="#fadfe2"/>
<text x="371.33" y="204.95" font-size="10.1" text-anchor="middle" textLength="13.21" lengthAdjust="spacingAndGlyphs" fill="#363636">1.7</text>
<rect x="382.58" y="196.18" width="20.89" height="10.73" fill="#fcecee"/>
<text x="393.02" y="204.95" font-size="10.1" text-anchor="middle" textLength="13.21" lengthAdjust="spacingAndGlyphs" fill="#363636">1.0</text>
<rect x="404.27" y="196.18" width="20.89" height="10.73" fill="#f7d0d4"/>
<text x="414.71" y="204.95" font-size="10.1" text-anchor="middle" textLength="13.21" lengthAdjust="spacingAndGlyphs" fill="#363636">2.5</text>
<rect x="425.96" y="196.18" width="20.89" height="10.73" fill="#fae1e3"/>
<text x="436.40" y="204.95" font-size="10.1" text-anchor="middle" textLength="13.21" lengthAdjust="spacingAndGlyphs" fill="#363636">1.6</text>
<rect x="447.64" y="196.18" width="20.89" height="10.73" fill="#fcf0f1"/>
<text x="458.09" y="204.95" font-size="10.1" text-anchor="middle" textLength="13.21" lengthAdjust="spacingAndGlyphs" fill="#363636">0.8</text>
<rect x="469.33" y="196.18" width="20.89" height="10.73" fill="#fae1e3"/>
<text x="479.78" y="204.95" font-size="10.1" text-anchor="middle" textLength="13.21" lengthAdjust="spacingAndGlyphs" fill="#363636">1.6</text>
<rect x="491.02" y="196.18" width="20.89" height="10.73" fill="#fbe5e7"/>
<text x="501.47" y="204.95" font-size="10.1" text-anchor="middle" textLength="13.21" lengthAdjust="spacingAndGlyphs" fill="#363636">1.4</text>
<rect x="512.71" y="196.18" width="20.89" height="10.73" fill="#fbebec"/>
<text x="523.16" y="204.95" font-size="10.1" text-anchor="middle" textLength="13.21" lengthAdjust="spacingAndGlyphs" fill="#363636">1.1</text>
<rect x="339.20" y="207.62" width="20.89" height="10.73" fill="#fceef0"/>
<text x="349.64" y="216.38" font-size="10.1" text-anchor="middle" textLength="13.21" lengthAdjust="spacingAndGlyphs" fill="#363636">0.9</text>
<rect x="360.89" y="207.62" width="20.89" height="10.73" fill="#fbe5e7"/>
<text x="371.33" y="216.38" font-size="10.1" text-anchor="middle" textLength="13.21" lengthAdjust="spacingAndGlyphs" fill="#363636">1.4</text>
<rect x="382.58" y="207.62" width="20.89" height="10.73" fill="#fbe5e7"/>
<text x="393.02" y="216.38" font-size="10.1" text-anchor="middle" textLength="13.21" lengthAdjust="spacingAndGlyphs" fill="#363636">1.4</text>
<rect x="404.27" y="207.62" width="20.89" height="10.73" fill="#fcecee"/>
<text x="414.71" y="216.38" font-size="10.1" text-anchor="middle" textLength="13.21" lengthAdjust="spacingAndGlyphs" fill="#363636">1.0</text>
<rect x="425.96" y="207.62" width="20.89" height="10.73" fill="#fbe5e7"/>
<text x="436.40" y="216.38" font-size="10.1" text-anchor="middle" textLength="13.21" lengthAdjust="spacingAndGlyphs" fill="#363636">1.4</text>
<rect x="447.64" y="207.62" width="20.89" height="10.73" fill="#fbebec"/>
<text x="458.09" y="216.38" font-size="10.1" text-anchor="middle" textLength="13.21" lengthAdjust="spacingAndGlyphs" fill="#363636">1.1</text>
<rect x="469.33" y="207.62" width="20.89" height="10.73" fill="#fcecee"/>
<text x="479.78" y="216.38" font-size="10.1" text-anchor="middle" textLength="13.21" lengthAdjust="spacingAndGlyphs" fill="#363636">1.0</text>
<rect x="491.02" y="207.62" width="20.89" height="10.73" fill="#fbe7e9"/>
<text x="501.47" y="216.38" font-size="10.1" text-anchor="middle" textLength="13.21" lengthAdjust="spacingAndGlyphs" fill="#363636">1.3</text>
<rect x="512.71" y="207.62" width="20.89" height="10.73" fill="#fcecee"/>
<text x="523.16" y="216.38" font-size="10.1" text-anchor="middle" textLength="13.21" lengthAdjust="spacingAndGlyphs" fill="#363636">1.0</text>
<rect x="339.20" y="219.05" width="20.89" height="10.73" fill="#fdf6f6"/>
<text x="349.64" y="227.82" font-size="10.1" text-anchor="middle" textLength="13.21" lengthAdjust="spacingAndGlyphs" fill="#363636">0.5</text>
<rect x="360.89" y="219.05" width="20.89" height="10.73" fill="#fbe5e7"/>
<text x="371.33" y="227.82" font-size="10.1" text-anchor="middle" textLength="13.21" lengthAdjust="spacingAndGlyphs" fill="#363636">1.4</text>
<rect x="382.58" y="219.05" width="20.89" height="10.73" fill="#f9dee0"/>
<text x="393.02" y="227.82" font-size="10.1" text-anchor="middle" textLength="13.21" lengthAdjust="spacingAndGlyphs" fill="#363636">1.8</text>
<rect x="404.27" y="219.05" width="20.89" height="10.73" fill="#fcecee"/>
<text x="414.71" y="227.82" font-size="10.1" text-anchor="middle" textLength="13.21" lengthAdjust="spacingAndGlyphs" fill="#363636">1.0</text>
<rect x="425.96" y="219.05" width="20.89" height="10.73" fill="#fadfe2"/>
<text x="436.40" y="227.82" font-size="10.1" text-anchor="middle" textLength="13.21" lengthAdjust="spacingAndGlyphs" fill="#363636">1.7</text>
<rect x="447.64" y="219.05" width="20.89" height="10.73" fill="#f9dadd"/>
<text x="458.09" y="227.82" font-size="10.1" text-anchor="middle" textLength="13.21" lengthAdjust="spacingAndGlyphs" fill="#363636">2.0</text>
<rect x="469.33" y="219.05" width="20.89" height="10.73" fill="#f9dadd"/>
<text x="479.78" y="227.82" font-size="10.1" text-anchor="middle" textLength="13.21" lengthAdjust="spacingAndGlyphs" fill="#363636">2.0</text>
<rect x="491.02" y="219.05" width="20.89" height="10.73" fill="#fbe5e7"/>
<text x="501.47" y="227.82" font-size="10.1" text-anchor="middle" textLength="13.21" lengthAdjust="spacingAndGlyphs" fill="#363636">1.4</text>
<rect x="512.71" y="219.05" width="20.89" height="10.73" fill="#f9dcde"/>
<text x="523.16" y="227.82" font-size="10.1" text-anchor="middle" textLength="13.21" lengthAdjust="spacingAndGlyphs" fill="#363636">1.9</text>
<rect x="339.20" y="230.48" width="20.89" height="10.73" fill="#fbebec"/>
<text x="349.64" y="239.25" font-size="10.1" text-anchor="middle" textLength="13.21" lengthAdjust="spacingAndGlyphs" fill="#363636">1.1</text>
<rect x="360.89" y="230.48" width="20.89" height="10.73" fill="#fbebec"/>
<text x="371.33" y="239.25" font-size="10.1" text-anchor="middle" textLength="13.21" lengthAdjust="spacingAndGlyphs" fill="#363636">1.1</text>
<rect x="382.58" y="230.48" width="20.89" height="10.73" fill="#fdf2f3"/>
<text x="393.02" y="239.25" font-size="10.1" text-anchor="middle" textLength="13.21" lengthAdjust="spacingAndGlyphs" fill="#363636">0.7</text>
<rect x="404.27" y="230.48" width="20.89" height="10.73" fill="#fcecee"/>
<text x="414.71" y="239.25" font-size="10.1" text-anchor="middle" textLength="13.21" lengthAdjust="spacingAndGlyphs" fill="#363636">1.0</text>
<rect x="425.96" y="230.48" width="20.89" height="10.73" fill="#fcecee"/>
<text x="436.40" y="239.25" font-size="10.1" text-anchor="middle" textLength="13.21" lengthAdjust="spacingAndGlyphs" fill="#363636">1.0</text>
<rect x="447.64" y="230.48" width="20.89" height="10.73" fill="#fdf2f3"/>
<text x="458.09" y="239.25" font-size="10.1" text-anchor="middle" textLength="13.21" lengthAdjust="spacingAndGlyphs" fill="#363636">0.7</text>
<rect x="469.33" y="230.48" width="20.89" height="10.73" fill="#fcf0f1"/>
<text x="479.78" y="239.25" font-size="10.1" text-anchor="middle" textLength="13.21" lengthAdjust="spacingAndGlyphs" fill="#363636">0.8</text>
<rect x="491.02" y="230.48" width="20.89" height="10.73" fill="#fbebec"/>
<text x="501.47" y="239.25" font-size="10.1" text-anchor="middle" textLength="13.21" lengthAdjust="spacingAndGlyphs" fill="#363636">1.1</text>
<rect x="512.71" y="230.48" width="20.89" height="10.73" fill="#fdf2f3"/>
<text x="523.16" y="239.25" font-size="10.1" text-anchor="middle" textLength="13.21" lengthAdjust="spacingAndGlyphs" fill="#363636">0.7</text>
<rect x="339.20" y="241.92" width="20.89" height="10.73" fill="#fef8f8"/>
<text x="349.64" y="250.68" font-size="10.1" text-anchor="middle" textLength="13.21" lengthAdjust="spacingAndGlyphs" fill="#363636">0.4</text>
<rect x="360.89" y="241.92" width="20.89" height="10.73" fill="#fcf0f1"/>
<text x="371.33" y="250.68" font-size="10.1" text-anchor="middle" textLength="13.21" lengthAdjust="spacingAndGlyphs" fill="#363636">0.8</text>
<rect x="382.58" y="241.92" width="20.89" height="10.73" fill="#fbebec"/>
<text x="393.02" y="250.68" font-size="10.1" text-anchor="middle" textLength="13.21" lengthAdjust="spacingAndGlyphs" fill="#363636">1.1</text>
<rect x="404.27" y="241.92" width="20.89" height="10.73" fill="#fdf4f5"/>
<text x="414.71" y="250.68" font-size="10.1" text-anchor="middle" textLength="13.21" lengthAdjust="spacingAndGlyphs" fill="#363636">0.6</text>
<rect x="425.96" y="241.92" width="20.89" height="10.73" fill="#fceef0"/>
<text x="436.40" y="250.68" font-size="10.1" text-anchor="middle" textLength="13.21" lengthAdjust="spacingAndGlyphs" fill="#363636">0.9</text>
<rect x="447.64" y="241.92" width="20.89" height="10.73" fill="#fbebec"/>
<text x="458.09" y="250.68" font-size="10.1" text-anchor="middle" textLength="13.21" lengthAdjust="spacingAndGlyphs" fill="#363636">1.1</text>
<rect x="469.33" y="241.92" width="20.89" height="10.73" fill="#fcecee"/>
<text x="479.78" y="250.68" font-size="10.1" text-anchor="middle" textLength="13.21" lengthAdjust="spacingAndGlyphs" fill="#363636">1.0</text>
<rect x="491.02" y="241.92" width="20.89" height="10.73" fill="#fceef0"/>
<text x="501.47" y="250.68" font-size="10.1" text-anchor="middle" textLength="13.21" lengthAdjust="spacingAndGlyphs" fill="#363636">0.9</text>
<rect x="512.71" y="241.92" width="20.89" height="10.73" fill="#fcecee"/>
<text x="523.16" y="250.68" font-size="10.1" text-anchor="middle" textLength="13.21" lengthAdjust="spacingAndGlyphs" fill="#363636">1.0</text>
<line x1="338.60" y1="47.00" x2="338.60" y2="253.40" stroke="#dcdcdc" stroke-width="0.8"/>
<line x1="338.30" y1="253.40" x2="534.40" y2="253.40" stroke="#777" stroke-width="1"/>
<line x1="534.10" y1="47.00" x2="534.10" y2="253.90" stroke="#888" stroke-width="0.9"/>
<g transform="translate(356.00 37.20) rotate(-57)"><text x="0" y="0" font-size="10.8" fill="#363636">TC&gt;TT</text><line x1="6.90" y1="1.8" x2="14.10" y2="1.8" stroke="#333" stroke-width="0.9"/><line x1="27.60" y1="1.8" x2="33.60" y2="1.8" stroke="#333" stroke-width="0.9"/></g>
<g transform="translate(374.15 37.45) rotate(-57)"><text x="0" y="0" font-size="10.8" fill="#363636">VC&gt;VT</text><line x1="7.50" y1="1.8" x2="14.70" y2="1.8" stroke="#333" stroke-width="0.9"/><line x1="28.81" y1="1.8" x2="34.81" y2="1.8" stroke="#333" stroke-width="0.9"/></g>
<g transform="translate(394.20 36.50) rotate(-57)"><text x="0" y="0" font-size="10.8" fill="#363636">ND&gt;NN</text><line x1="8.10" y1="1.8" x2="15.30" y2="1.8" stroke="#333" stroke-width="0.9"/><line x1="30.01" y1="1.8" x2="37.21" y2="1.8" stroke="#333" stroke-width="0.9"/></g>
<g transform="translate(417.80 37.20) rotate(-57)"><text x="0" y="0" font-size="10.8" fill="#363636">TC&gt;TT</text><line x1="6.90" y1="1.8" x2="14.10" y2="1.8" stroke="#333" stroke-width="0.9"/><line x1="27.60" y1="1.8" x2="33.60" y2="1.8" stroke="#333" stroke-width="0.9"/></g>
<g transform="translate(435.65 37.45) rotate(-57)"><text x="0" y="0" font-size="10.8" fill="#363636">VC&gt;VT</text><line x1="7.50" y1="1.8" x2="14.70" y2="1.8" stroke="#333" stroke-width="0.9"/><line x1="28.81" y1="1.8" x2="34.81" y2="1.8" stroke="#333" stroke-width="0.9"/></g>
<g transform="translate(456.30 36.50) rotate(-57)"><text x="0" y="0" font-size="10.8" fill="#363636">ND&gt;NN</text><line x1="8.10" y1="1.8" x2="15.30" y2="1.8" stroke="#333" stroke-width="0.9"/><line x1="30.01" y1="1.8" x2="37.21" y2="1.8" stroke="#333" stroke-width="0.9"/></g>
<g transform="translate(481.70 37.20) rotate(-57)"><text x="0" y="0" font-size="10.8" fill="#363636">TC&gt;TT</text><line x1="6.90" y1="1.8" x2="14.10" y2="1.8" stroke="#333" stroke-width="0.9"/><line x1="27.60" y1="1.8" x2="33.60" y2="1.8" stroke="#333" stroke-width="0.9"/></g>
<g transform="translate(499.95 37.45) rotate(-57)"><text x="0" y="0" font-size="10.8" fill="#363636">VC&gt;VT</text><line x1="7.50" y1="1.8" x2="14.70" y2="1.8" stroke="#333" stroke-width="0.9"/><line x1="28.81" y1="1.8" x2="34.81" y2="1.8" stroke="#333" stroke-width="0.9"/></g>
<g transform="translate(519.90 36.50) rotate(-57)"><text x="0" y="0" font-size="10.8" fill="#363636">ND&gt;NN</text><line x1="8.10" y1="1.8" x2="15.30" y2="1.8" stroke="#333" stroke-width="0.9"/><line x1="30.01" y1="1.8" x2="37.21" y2="1.8" stroke="#333" stroke-width="0.9"/></g>
<text x="555.20" y="56.20" font-size="10.7" text-anchor="end" textLength="8.67" lengthAdjust="spacingAndGlyphs" fill="#363636">1.</text>
<text x="557.70" y="56.20" font-size="10.7" textLength="50.18" lengthAdjust="spacingAndGlyphs" fill="#363636">Active TSS</text>
<text x="555.20" y="67.72" font-size="10.7" text-anchor="end" textLength="8.67" lengthAdjust="spacingAndGlyphs" fill="#363636">2.</text>
<text x="557.70" y="67.72" font-size="10.7" textLength="17.40" lengthAdjust="spacingAndGlyphs" fill="#363636">TSS</text>
<text x="555.20" y="79.24" font-size="10.7" text-anchor="end" textLength="8.67" lengthAdjust="spacingAndGlyphs" fill="#363636">3.</text>
<text x="557.70" y="79.24" font-size="10.7" textLength="61.00" lengthAdjust="spacingAndGlyphs" fill="#363636">Flanking TSS</text>
<text x="555.20" y="90.76" font-size="10.7" text-anchor="end" textLength="8.67" lengthAdjust="spacingAndGlyphs" fill="#363636">4.</text>
<text x="557.70" y="90.76" font-size="10.7" textLength="123.40" lengthAdjust="spacingAndGlyphs" fill="#363636">Flanking TSS Downstream</text>
<text x="555.20" y="102.28" font-size="10.7" text-anchor="end" textLength="8.67" lengthAdjust="spacingAndGlyphs" fill="#363636">5.</text>
<text x="557.70" y="102.28" font-size="10.7" textLength="95.49" lengthAdjust="spacingAndGlyphs" fill="#363636">Strong Transcription</text>
<text x="555.20" y="113.80" font-size="10.7" text-anchor="end" textLength="8.67" lengthAdjust="spacingAndGlyphs" fill="#363636">6.</text>
<text x="557.70" y="113.80" font-size="10.7" textLength="90.21" lengthAdjust="spacingAndGlyphs" fill="#363636">Weak Transcription</text>
<text x="545.60" y="125.32" font-size="10.7" textLength="119.29" lengthAdjust="spacingAndGlyphs" fill="#363636">7.Transcribed enhancer 1</text>
<text x="555.20" y="136.84" font-size="10.7" text-anchor="end" textLength="8.67" lengthAdjust="spacingAndGlyphs" fill="#363636">8.</text>
<text x="557.70" y="136.84" font-size="10.7" textLength="110.30" lengthAdjust="spacingAndGlyphs" fill="#363636">Transcribed enhancer 2</text>
<text x="555.20" y="148.36" font-size="10.7" text-anchor="end" textLength="8.67" lengthAdjust="spacingAndGlyphs" fill="#363636">9.</text>
<text x="557.70" y="148.36" font-size="10.7" textLength="84.40" lengthAdjust="spacingAndGlyphs" fill="#363636">Active enhancer 1</text>
<text x="555.20" y="159.88" font-size="10.7" text-anchor="end" textLength="14.46" lengthAdjust="spacingAndGlyphs" fill="#363636">10.</text>
<text x="557.70" y="159.88" font-size="10.7" textLength="85.40" lengthAdjust="spacingAndGlyphs" fill="#363636">Active enhancer 2</text>
<text x="555.20" y="171.40" font-size="10.7" text-anchor="end" textLength="13.69" lengthAdjust="spacingAndGlyphs" fill="#363636">11.</text>
<text x="557.70" y="171.40" font-size="10.7" textLength="73.71" lengthAdjust="spacingAndGlyphs" fill="#363636">Weak enhancer</text>
<text x="555.20" y="182.92" font-size="10.7" text-anchor="end" textLength="14.46" lengthAdjust="spacingAndGlyphs" fill="#363636">12.</text>
<text x="557.70" y="182.92" font-size="10.7" textLength="111.61" lengthAdjust="spacingAndGlyphs" fill="#363636">ZNF genes and repeats</text>
<text x="555.20" y="194.44" font-size="10.7" text-anchor="end" textLength="14.46" lengthAdjust="spacingAndGlyphs" fill="#363636">13.</text>
<text x="557.70" y="194.44" font-size="10.7" textLength="79.93" lengthAdjust="spacingAndGlyphs" fill="#363636">Heterochromatin</text>
<text x="555.20" y="205.96" font-size="10.7" text-anchor="end" textLength="14.46" lengthAdjust="spacingAndGlyphs" fill="#363636">14.</text>
<text x="557.70" y="205.96" font-size="10.7" textLength="95.22" lengthAdjust="spacingAndGlyphs" fill="#363636">Bivalent/poised TSS</text>
<text x="555.20" y="217.48" font-size="10.7" text-anchor="end" textLength="14.46" lengthAdjust="spacingAndGlyphs" fill="#363636">15.</text>
<text x="557.70" y="217.48" font-size="10.7" textLength="85.01" lengthAdjust="spacingAndGlyphs" fill="#363636">Bivalent enhancer</text>
<text x="555.20" y="229.00" font-size="10.7" text-anchor="end" textLength="14.46" lengthAdjust="spacingAndGlyphs" fill="#363636">16.</text>
<text x="557.70" y="229.00" font-size="10.7" textLength="100.29" lengthAdjust="spacingAndGlyphs" fill="#363636">Repressed polycomb</text>
<text x="555.20" y="240.52" font-size="10.7" text-anchor="end" textLength="14.46" lengthAdjust="spacingAndGlyphs" fill="#363636">17.</text>
<text x="557.70" y="240.52" font-size="10.7" textLength="126.91" lengthAdjust="spacingAndGlyphs" fill="#363636">Weak repressed polycomb</text>
<text x="555.20" y="252.04" font-size="10.7" text-anchor="end" textLength="14.46" lengthAdjust="spacingAndGlyphs" fill="#363636">18.</text>
<text x="557.70" y="252.04" font-size="10.7" textLength="48.17" lengthAdjust="spacingAndGlyphs" fill="#363636">Quiescent</text>
<text x="325.40" y="265.40" font-size="10.8" textLength="55.28" lengthAdjust="spacingAndGlyphs" fill="#363636">Enrichment</text>
<text x="321.00" y="278.30" font-size="10.8" textLength="63.42" lengthAdjust="spacingAndGlyphs" fill="#363636">(fold change)</text>
<defs><linearGradient id="eg" x1="0" x2="1" y1="0" y2="0"><stop offset="0.06" stop-color="#ffffff"/><stop offset="0.53" stop-color="#efa2a9"/><stop offset="1" stop-color="#f2424c"/></linearGradient></defs>
<rect x="406.5" y="255.8" width="51" height="11.8" rx="1" fill="url(#eg)" stroke="#555" stroke-width="1"/>
<text x="396.80" y="265.10" font-size="11.2" textLength="6.31" lengthAdjust="spacingAndGlyphs" fill="#363636">0</text>
<text x="459.60" y="265.10" font-size="11.2" textLength="10.82" lengthAdjust="spacingAndGlyphs" fill="#363636">10</text>
<rect x="505.60" y="258.40" width="26.30" height="5.40" fill="#f5474f" stroke="#8c2c34" stroke-width="0.6"/>
<text x="548.90" y="265.50" font-size="10.8" textLength="56.38" lengthAdjust="spacingAndGlyphs" fill="#363636" xml:space="preserve">A+ colonies</text>
<rect x="505.60" y="267.50" width="26.30" height="5.40" fill="#6a2ee6" stroke="#3a1a80" stroke-width="0.6"/>
<text x="548.90" y="275.00" font-size="10.8" textLength="57.79" lengthAdjust="spacingAndGlyphs" fill="#363636" xml:space="preserve">M+ colonies</text>
<rect x="505.60" y="277.10" width="26.30" height="5.40" fill="#4189f5" stroke="#26508c" stroke-width="0.6"/>
<text x="548.90" y="284.60" font-size="10.8" textLength="56.40" lengthAdjust="spacingAndGlyphs" fill="#363636" xml:space="preserve">A-  colonies</text>
<text x="-0.50" y="367.20" font-size="20" fill="#222">c</text>
<text x="154.70" y="355.40" font-size="10.6" textLength="39.80" lengthAdjust="spacingAndGlyphs" fill="#363636">all SNVs</text>
<path d="M103.90 363.6 V359.3 H250.50 V363.6" fill="none" stroke="#444" stroke-width="0.9"/>
<text x="92.90" y="380.60" font-size="10.6" textLength="32.69" lengthAdjust="spacingAndGlyphs" fill="#363636">TC&gt;TT</text>
<text x="162.10" y="380.60" font-size="10.6" textLength="34.11" lengthAdjust="spacingAndGlyphs" fill="#363636">VC&gt;VT</text>
<text x="230.60" y="380.60" font-size="10.6" textLength="30.49" lengthAdjust="spacingAndGlyphs" fill="#363636">others</text>
<text x="77.00" y="404.20" font-size="10.6" textLength="14.81" lengthAdjust="spacingAndGlyphs" fill="#363636">A+</text>
<text x="100.50" y="404.20" font-size="10.6" textLength="17.02" lengthAdjust="spacingAndGlyphs" fill="#363636">M+</text>
<text x="125.20" y="404.20" font-size="10.6" textLength="12.40" lengthAdjust="spacingAndGlyphs" fill="#363636">A-</text>
<text x="148.20" y="404.20" font-size="10.6" textLength="14.31" lengthAdjust="spacingAndGlyphs" fill="#363636">A+</text>
<text x="171.20" y="404.20" font-size="10.6" textLength="16.02" lengthAdjust="spacingAndGlyphs" fill="#363636">M+</text>
<text x="195.90" y="404.20" font-size="10.6" textLength="11.50" lengthAdjust="spacingAndGlyphs" fill="#363636">A-</text>
<text x="219.30" y="404.20" font-size="10.6" textLength="14.51" lengthAdjust="spacingAndGlyphs" fill="#363636">A+</text>
<text x="241.80" y="404.20" font-size="10.6" textLength="16.12" lengthAdjust="spacingAndGlyphs" fill="#363636">M+</text>
<text x="266.50" y="404.20" font-size="10.6" textLength="11.60" lengthAdjust="spacingAndGlyphs" fill="#363636">A-</text>
<text x="288.00" y="404.30" font-size="10.8" textLength="40.79" lengthAdjust="spacingAndGlyphs" fill="#363636">colonies</text>
<line x1="73.50" y1="395.30" x2="73.50" y2="509.70" stroke="#222" stroke-width="1"/>
<line x1="71.30" y1="395.30" x2="73.50" y2="395.30" stroke="#222" stroke-width="0.9"/>
<line x1="71.30" y1="409.60" x2="73.50" y2="409.60" stroke="#222" stroke-width="0.9"/>
<line x1="71.30" y1="423.90" x2="73.50" y2="423.90" stroke="#222" stroke-width="0.9"/>
<line x1="71.30" y1="438.20" x2="73.50" y2="438.20" stroke="#222" stroke-width="0.9"/>
<line x1="71.30" y1="452.50" x2="73.50" y2="452.50" stroke="#222" stroke-width="0.9"/>
<line x1="71.30" y1="466.80" x2="73.50" y2="466.80" stroke="#222" stroke-width="0.9"/>
<line x1="71.30" y1="481.10" x2="73.50" y2="481.10" stroke="#222" stroke-width="0.9"/>
<line x1="71.30" y1="495.40" x2="73.50" y2="495.40" stroke="#222" stroke-width="0.9"/>
<line x1="71.30" y1="509.70" x2="73.50" y2="509.70" stroke="#222" stroke-width="0.9"/>
<text x="63.90" y="398.10" font-size="10.6" text-anchor="end" fill="#363636">2</text>
<text x="63.90" y="426.70" font-size="10.6" text-anchor="end" fill="#363636">1</text>
<text x="63.90" y="455.30" font-size="10.6" text-anchor="end" fill="#363636">0</text>
<text x="63.90" y="483.90" font-size="10.6" text-anchor="end" fill="#363636">-1</text>
<text x="63.90" y="512.50" font-size="10.6" text-anchor="end" fill="#363636">-2</text>
<line x1="142.50" y1="381.50" x2="142.50" y2="512.00" stroke="#555" stroke-width="0.8" stroke-dasharray="1.8 1.4"/>
<line x1="214.40" y1="381.50" x2="214.40" y2="512.00" stroke="#555" stroke-width="0.8" stroke-dasharray="1.8 1.4"/>
<rect x="80.30" y="451.30" width="3.10" height="1.20" fill="#4a8cf8"/>
<rect x="84.05" y="434.30" width="3.10" height="18.20" fill="#8062f8"/>
<rect x="87.70" y="415.30" width="3.10" height="37.20" fill="#f5434d"/>
<rect x="103.72" y="452.50" width="3.10" height="5.60" fill="#4a8cf8"/>
<rect x="107.47" y="452.50" width="3.10" height="9.60" fill="#8062f8"/>
<rect x="111.12" y="452.50" width="3.10" height="3.80" fill="#f5434d"/>
<rect x="127.14" y="452.50" width="3.10" height="14.50" fill="#4a8cf8"/>
<rect x="130.89" y="452.50" width="3.10" height="25.70" fill="#8062f8"/>
<rect x="134.54" y="452.50" width="3.10" height="41.70" fill="#f5434d"/>
<rect x="150.56" y="452.50" width="3.10" height="9.40" fill="#4a8cf8"/>
<rect x="154.31" y="452.50" width="3.10" height="0.40" fill="#8062f8"/>
<rect x="157.96" y="439.10" width="3.10" height="13.40" fill="#f5434d"/>
<rect x="173.98" y="452.50" width="3.10" height="12.70" fill="#4a8cf8"/>
<rect x="177.73" y="452.50" width="3.10" height="17.20" fill="#8062f8"/>
<rect x="181.38" y="452.50" width="3.10" height="19.00" fill="#f5434d"/>
<rect x="197.40" y="452.50" width="3.10" height="17.20" fill="#4a8cf8"/>
<rect x="201.15" y="452.50" width="3.10" height="27.50" fill="#8062f8"/>
<rect x="204.80" y="452.50" width="3.10" height="42.40" fill="#f5434d"/>
<rect x="220.82" y="452.50" width="3.10" height="9.30" fill="#4a8cf8"/>
<rect x="224.57" y="452.50" width="3.10" height="1.10" fill="#8062f8"/>
<rect x="228.22" y="452.50" width="3.10" height="3.30" fill="#f5434d"/>
<rect x="244.24" y="452.50" width="3.10" height="15.50" fill="#4a8cf8"/>
<rect x="247.99" y="452.50" width="3.10" height="23.30" fill="#8062f8"/>
<rect x="251.64" y="452.50" width="3.10" height="26.20" fill="#f5434d"/>
<rect x="267.66" y="452.50" width="3.10" height="16.20" fill="#4a8cf8"/>
<rect x="271.41" y="452.50" width="3.10" height="28.50" fill="#8062f8"/>
<rect x="275.06" y="452.50" width="3.10" height="43.40" fill="#f5434d"/>
<line x1="73.50" y1="452.50" x2="284.70" y2="452.50" stroke="#222" stroke-width="1.0"/>
<text transform="translate(29.00 472.50) rotate(-90)" x="-0.00" y="0" font-size="10.6" textLength="51.42" lengthAdjust="spacingAndGlyphs" fill="#363636">log2 ratio,</text>
<text transform="translate(42.20 530.00) rotate(-90)" x="-0.00" y="0" font-size="10.6" textLength="165.71" lengthAdjust="spacingAndGlyphs" fill="#363636">mutations / mutations in latest bin</text>
<text x="72.70" y="524.80" font-size="9.4" textLength="42.08" lengthAdjust="spacingAndGlyphs" fill="#363636">replication</text>
<text x="80.70" y="535.70" font-size="9.4" textLength="26.90" lengthAdjust="spacingAndGlyphs" fill="#363636">timing:</text>
<rect x="122.00" y="525.30" width="9.30" height="5.60" fill="#4a8cf8"/>
<text x="132.40" y="530.90" font-size="9.4" textLength="32.52" lengthAdjust="spacingAndGlyphs" fill="#363636">mid-late</text>
<rect x="179.10" y="525.30" width="9.30" height="5.60" fill="#8062f8"/>
<text x="189.50" y="530.90" font-size="9.4" textLength="36.92" lengthAdjust="spacingAndGlyphs" fill="#363636">mid-early</text>
<rect x="241.90" y="525.30" width="9.30" height="5.60" fill="#f5424f"/>
<text x="252.30" y="530.90" font-size="9.4" textLength="28.69" lengthAdjust="spacingAndGlyphs" fill="#363636">earliest</text>
<text x="464.10" y="355.40" font-size="10.6" textLength="58.00" lengthAdjust="spacingAndGlyphs" fill="#363636">omikli SNVs</text>
<path d="M422.80 363.6 V359.3 H568.90 V363.6" fill="none" stroke="#444" stroke-width="0.9"/>
<text x="413.00" y="380.60" font-size="10.6" textLength="33.49" lengthAdjust="spacingAndGlyphs" fill="#363636">TC&gt;TT</text>
<text x="483.00" y="380.60" font-size="10.6" textLength="34.21" lengthAdjust="spacingAndGlyphs" fill="#363636">VC&gt;VT</text>
<text x="551.50" y="380.60" font-size="10.6" textLength="30.69" lengthAdjust="spacingAndGlyphs" fill="#363636">others</text>
<text x="402.50" y="404.20" font-size="10.6" textLength="14.91" lengthAdjust="spacingAndGlyphs" fill="#363636">A+</text>
<text x="425.80" y="404.20" font-size="10.6" textLength="16.52" lengthAdjust="spacingAndGlyphs" fill="#363636">M+</text>
<text x="451.30" y="404.20" font-size="10.6" textLength="11.00" lengthAdjust="spacingAndGlyphs" fill="#363636">A-</text>
<text x="473.40" y="404.20" font-size="10.6" textLength="13.81" lengthAdjust="spacingAndGlyphs" fill="#363636">A+</text>
<text x="495.90" y="404.20" font-size="10.6" textLength="16.42" lengthAdjust="spacingAndGlyphs" fill="#363636">M+</text>
<text x="521.30" y="404.20" font-size="10.6" textLength="10.80" lengthAdjust="spacingAndGlyphs" fill="#363636">A-</text>
<text x="543.80" y="404.20" font-size="10.6" textLength="14.31" lengthAdjust="spacingAndGlyphs" fill="#363636">A+</text>
<text x="566.50" y="404.20" font-size="10.6" textLength="17.12" lengthAdjust="spacingAndGlyphs" fill="#363636">M+</text>
<text x="592.50" y="404.20" font-size="10.6" textLength="11.00" lengthAdjust="spacingAndGlyphs" fill="#363636">A-</text>
<text x="617.80" y="404.30" font-size="10.8" textLength="40.59" lengthAdjust="spacingAndGlyphs" fill="#363636">colonies</text>
<line x1="398.50" y1="396.34" x2="398.50" y2="508.66" stroke="#222" stroke-width="1"/>
<line x1="396.30" y1="396.34" x2="398.50" y2="396.34" stroke="#222" stroke-width="0.9"/>
<line x1="396.30" y1="415.06" x2="398.50" y2="415.06" stroke="#222" stroke-width="0.9"/>
<line x1="396.30" y1="433.78" x2="398.50" y2="433.78" stroke="#222" stroke-width="0.9"/>
<line x1="396.30" y1="452.50" x2="398.50" y2="452.50" stroke="#222" stroke-width="0.9"/>
<line x1="396.30" y1="471.22" x2="398.50" y2="471.22" stroke="#222" stroke-width="0.9"/>
<line x1="396.30" y1="489.94" x2="398.50" y2="489.94" stroke="#222" stroke-width="0.9"/>
<line x1="396.30" y1="508.66" x2="398.50" y2="508.66" stroke="#222" stroke-width="0.9"/>
<text x="393.70" y="399.14" font-size="10.6" text-anchor="end" fill="#363636">6</text>
<text x="393.70" y="417.86" font-size="10.6" text-anchor="end" fill="#363636">4</text>
<text x="393.70" y="436.58" font-size="10.6" text-anchor="end" fill="#363636">2</text>
<text x="393.70" y="455.30" font-size="10.6" text-anchor="end" fill="#363636">0</text>
<text x="393.70" y="474.02" font-size="10.6" text-anchor="end" fill="#363636">-2</text>
<text x="393.70" y="492.74" font-size="10.6" text-anchor="end" fill="#363636">-4</text>
<text x="393.70" y="511.46" font-size="10.6" text-anchor="end" fill="#363636">-6</text>
<line x1="465.50" y1="381.50" x2="465.50" y2="512.00" stroke="#555" stroke-width="0.8" stroke-dasharray="1.8 1.4"/>
<line x1="539.40" y1="381.50" x2="539.40" y2="512.00" stroke="#555" stroke-width="0.8" stroke-dasharray="1.8 1.4"/>
<rect x="404.90" y="442.60" width="3.10" height="9.90" fill="#4a8cf8"/>
<rect x="408.65" y="444.00" width="3.10" height="8.50" fill="#8062f8"/>
<rect x="412.30" y="436.00" width="3.10" height="16.50" fill="#f5434d"/>
<rect x="428.44" y="452.50" width="3.10" height="14.70" fill="#4a8cf8"/>
<rect x="432.19" y="450.70" width="3.10" height="1.80" fill="#8062f8"/>
<rect x="435.84" y="444.70" width="3.10" height="7.80" fill="#f5434d"/>
<rect x="451.98" y="452.50" width="3.10" height="21.90" fill="#4a8cf8"/>
<rect x="455.73" y="452.50" width="3.10" height="19.00" fill="#8062f8"/>
<rect x="459.38" y="452.50" width="3.10" height="34.00" fill="#f5434d"/>
<rect x="475.52" y="445.90" width="3.10" height="6.60" fill="#4a8cf8"/>
<rect x="479.27" y="443.70" width="3.10" height="8.80" fill="#8062f8"/>
<rect x="482.92" y="439.90" width="3.10" height="12.60" fill="#f5434d"/>
<rect x="499.06" y="449.00" width="3.10" height="3.50" fill="#4a8cf8"/>
<rect x="502.81" y="452.50" width="3.10" height="14.70" fill="#8062f8"/>
<rect x="506.46" y="452.50" width="3.10" height="14.70" fill="#f5434d"/>
<rect x="522.60" y="452.50" width="3.10" height="21.90" fill="#4a8cf8"/>
<rect x="526.35" y="452.50" width="3.10" height="29.20" fill="#8062f8"/>
<rect x="530.00" y="452.50" width="3.10" height="48.50" fill="#f5434d"/>
<rect x="546.14" y="452.50" width="3.10" height="11.00" fill="#4a8cf8"/>
<rect x="549.89" y="452.50" width="3.10" height="29.20" fill="#8062f8"/>
<rect x="553.54" y="452.50" width="3.10" height="11.00" fill="#f5434d"/>
<rect x="569.68" y="452.50" width="3.10" height="29.20" fill="#4a8cf8"/>
<rect x="573.43" y="452.50" width="3.10" height="29.20" fill="#8062f8"/>
<rect x="577.08" y="452.50" width="3.10" height="29.20" fill="#f5434d"/>
<rect x="593.22" y="452.50" width="3.10" height="2.10" fill="#4a8cf8"/>
<rect x="596.97" y="452.50" width="3.10" height="19.00" fill="#8062f8"/>
<rect x="600.62" y="452.50" width="3.10" height="23.60" fill="#f5434d"/>
<line x1="398.50" y1="452.50" x2="609.60" y2="452.50" stroke="#222" stroke-width="1.0"/>
<text transform="translate(358.00 472.90) rotate(-90)" x="-0.00" y="0" font-size="10.6" textLength="49.42" lengthAdjust="spacingAndGlyphs" fill="#363636">log2 ratio,</text>
<text transform="translate(371.40 531.00) rotate(-90)" x="-0.00" y="0" font-size="10.6" textLength="166.21" lengthAdjust="spacingAndGlyphs" fill="#363636">mutations / mutations in latest bin</text>
<text x="397.70" y="524.80" font-size="9.4" textLength="41.98" lengthAdjust="spacingAndGlyphs" fill="#363636">replication</text>
<text x="404.70" y="535.70" font-size="9.4" textLength="26.70" lengthAdjust="spacingAndGlyphs" fill="#363636">timing:</text>
<rect x="447.30" y="525.30" width="9.30" height="5.60" fill="#4a8cf8"/>
<text x="457.70" y="530.90" font-size="9.4" textLength="32.52" lengthAdjust="spacingAndGlyphs" fill="#363636">mid-late</text>
<rect x="504.30" y="525.30" width="9.30" height="5.60" fill="#8062f8"/>
<text x="514.70" y="530.90" font-size="9.4" textLength="36.92" lengthAdjust="spacingAndGlyphs" fill="#363636">mid-early</text>
<rect x="567.20" y="525.30" width="9.30" height="5.60" fill="#f5424f"/>
<text x="577.60" y="530.90" font-size="9.4" textLength="27.79" lengthAdjust="spacingAndGlyphs" fill="#363636">earliest</text>
</svg>
</body></html>
